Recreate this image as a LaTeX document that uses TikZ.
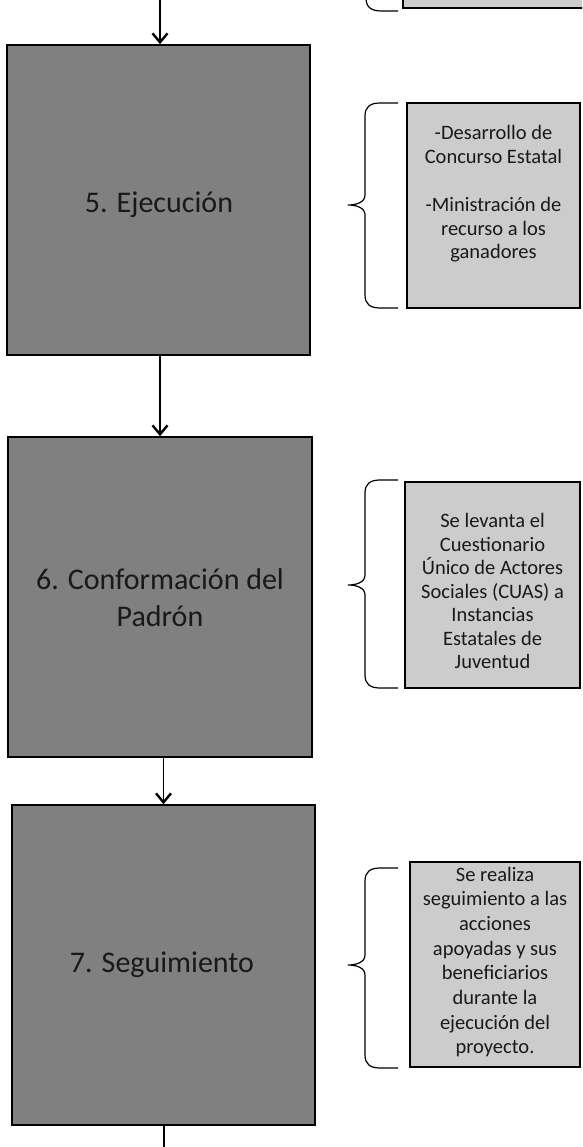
\documentclass[tikz,border=0pt]{standalone}
\usepackage{fontspec}
\setmainfont{Carlito}
\usetikzlibrary{arrows.meta}
\newcommand\mybrace[3]{%
  \draw[bracestyle] (398,#1) -- (380,#1) .. controls (370,#1) and (365,#1+4) .. (365,#1+13)
    -- (365,#2-10) .. controls (365,#2-3) and (357,#2) .. (348,#2)
    .. controls (357,#2) and (365,#2+3) .. (365,#2+10)
    -- (365,#3-13) .. controls (365,#3-4) and (370,#3) .. (380,#3) -- (398,#3);}
\begin{document}
\begin{tikzpicture}[x=1pt,y=-1pt,
  stage/.style={draw=black, line width=1.6pt, fill=black!50, inner sep=0pt, rectangle},
  note/.style={draw=black, line width=1.3pt, fill=black!20, inner sep=0pt, rectangle},
  bigtext/.style={font=\fontsize{30}{37}\selectfont, align=center, text=black!90},
  smalltext/.style={font=\fontsize{20.5}{23.5}\selectfont, align=center, text=black!90},
  arr/.style={line width=1.4pt, -{Straight Barb[length=9pt,width=15pt,line width=2.4pt]}},
  plainline/.style={line width=1.4pt},
  bracestyle/.style={line width=1.2pt}]
\clip (0,0) rectangle (582,1147);
\useasboundingbox (0,0) rectangle (582,1147);

% previous note box (cut off at top)
\node[note, minimum width=190pt, minimum height=80pt] (r4) at (498,-32) {};
\draw[bracestyle] (398,11) -- (382,11) .. controls (372,11) and (366,8) .. (366,-2) -- (366,-20);

% stages
\node[stage, minimum width=303pt, minimum height=310pt] (b5) at (158.5,200) {};
\node[bigtext] (t5) at (159,205) {5. Ejecución};
\node[stage, minimum width=304pt, minimum height=320pt] (b6) at (160,597) {};
\node[bigtext] (t6) at (160,598) {6. Conformación del\\Padrón};
\node[stage, minimum width=303pt, minimum height=320pt] (b7) at (163.5,965) {};
\node[bigtext] (t7) at (162,965) {7. Seguimiento};

% connectors
\coordinate (top) at (160,-2);
\coordinate (bot) at (164,1150);
\draw[arr] (top) -- (top |- b5.north);
\draw[arr] (b6.north |- b5.south) -- (b6.north);
\draw[arr] (b7.north |- b6.south) -- (b7.north);
\draw[plainline] (bot |- b7.south) -- (bot);

% notes
\node[note, minimum width=173pt, minimum height=205pt] (r5) at (493.5,205.5) {};
\node[smalltext] (n5) at (493.5,194) {-Desarrollo de\\Concurso Estatal\\[25pt]-Ministración de\\recurso a los\\ganadores};
\node[note, minimum width=175pt, minimum height=206pt] (r6) at (492.5,585) {};
\node[smalltext] (n6) at (492.5,591) {Se levanta el\\Cuestionario\\Único de Actores\\Sociales (CUAS) a\\Instancias\\Estatales de\\Juventud};
\node[note, minimum width=170pt, minimum height=205pt] (r7) at (495,964.5) {};
\node[smalltext, font=\fontsize{20.5}{24.7}\selectfont] (n7) at (495,962) {Se realiza\\seguimiento a las\\acciones\\apoyadas y sus\\beneficiarios\\durante la\\ejecución del\\proyecto.};

% braces
\mybrace{103}{205}{308}
\mybrace{480}{585}{688}
\mybrace{868}{965}{1068}
\end{tikzpicture}
\end{document}
